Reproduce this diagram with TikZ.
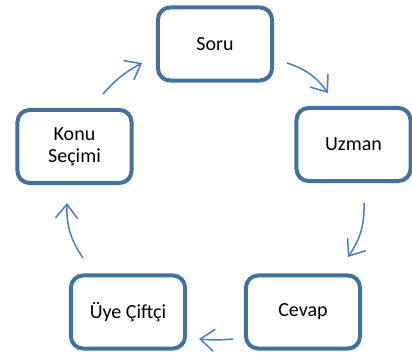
\documentclass[tikz,border=0pt]{standalone}
\usepackage{fontspec}
\setmainfont{Carlito}
\usetikzlibrary{arrows.meta}
\definecolor{boxblue}{HTML}{41719C}
\definecolor{arrowblue}{HTML}{4A7EBB}
\begin{document}
\begin{tikzpicture}[x=1bp,y=1bp,
  cbox/.style={draw=boxblue,line width=4bp,rounded corners=12bp,fill=white,
    minimum width=114bp,minimum height=73bp,align=center,inner sep=0pt,
    font=\fontsize{20bp}{22bp}\selectfont},
  cyc/.style={draw=arrowblue,line width=1.5bp,
    -{Straight Barb[length=14bp,width=22bp,line width=1.5bp]}}]
\useasboundingbox (0,0) rectangle (412,354);
\node[cbox] (soru) at (215,310) {Soru};
\node[cbox] (uzman) at (353.5,209.5) {Uzman};
\node[cbox] (konu) at (74.5,207.5) {Konu\\Seçimi};
\node[cbox] (uye) at (128,42) {Üye Çiftçi};
\node[cbox] (cevap) at (303,42) {Cevap};
\coordinate (a1) at (287,291); \coordinate (b1) at (328,261);
\coordinate (a2) at (364,151); \coordinate (b2) at (348,97);
\coordinate (a3) at (233,15);  \coordinate (b3) at (199,15);
\coordinate (a4) at (83,96);   \coordinate (b4) at (67,151);
\coordinate (a5) at (103,260); \coordinate (b5) at (142,291);
\draw[cyc] (a1) to[bend left=18] (b1);
\draw[cyc] (a2) to[bend left=18] (b2);
\draw[cyc] (a3) to[bend left=5] (b3);
\draw[cyc] (a4) to[bend left=18] (b4);
\draw[cyc] (a5) to[bend left=10] (b5);
\end{tikzpicture}
\end{document}
